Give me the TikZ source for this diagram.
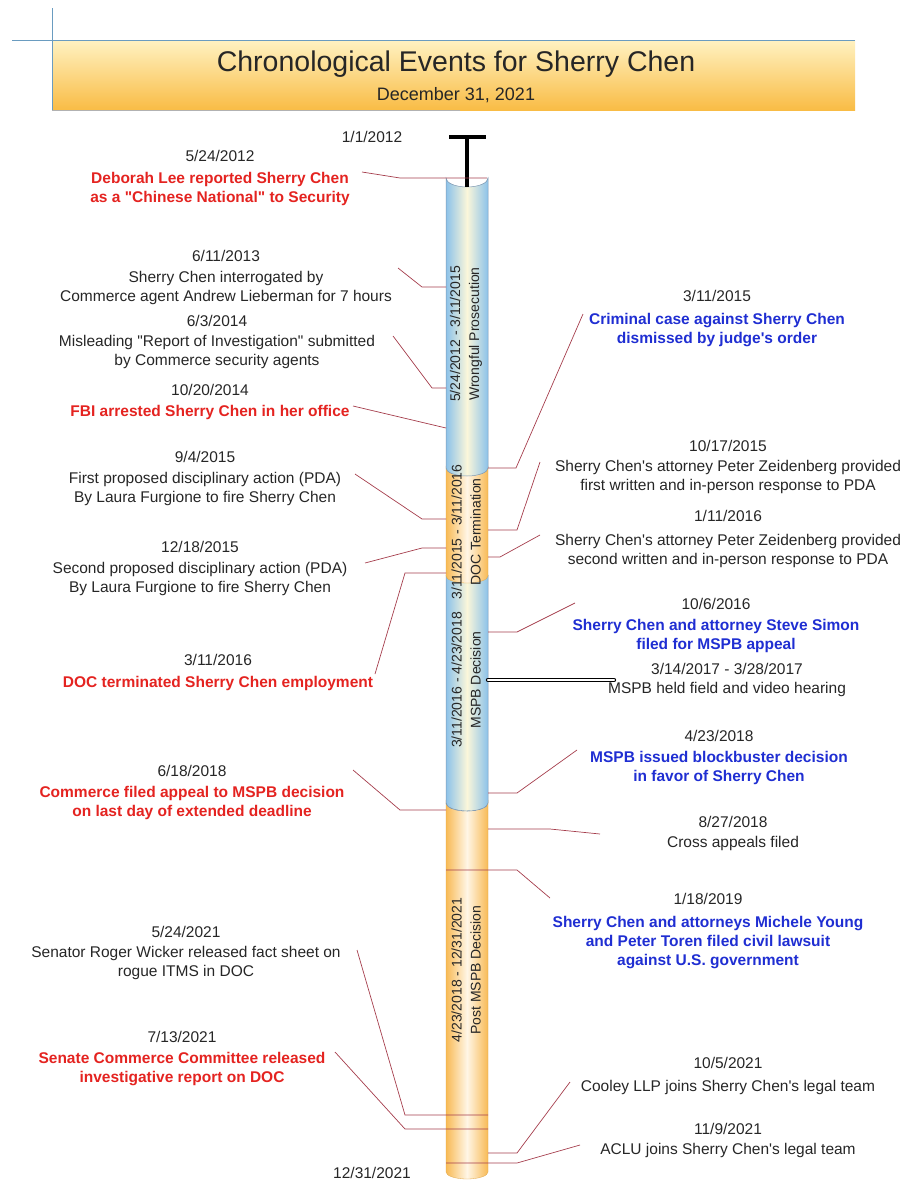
\documentclass[tikz,border=0pt]{standalone}
\usepackage{fontspec}
\setmainfont{Liberation Sans}[Ligatures=TeXOff]
\usepackage{tikz}
\usetikzlibrary{positioning}
\definecolor{evred}{HTML}{E42320}
\definecolor{evblue}{HTML}{1F2ED2}
\definecolor{evtext}{HTML}{262626}
\definecolor{linkred}{HTML}{A53D4C}
\definecolor{tubeblue}{HTML}{8CC2EA}
\definecolor{tubecream}{HTML}{FBF7DA}
\definecolor{tubeorange}{HTML}{F8BA55}
\definecolor{tubelight}{HTML}{FFF6E6}
\definecolor{tubeedge}{HTML}{7E98B2}
\definecolor{bannertop}{HTML}{FFF2C2}
\definecolor{bannerbot}{HTML}{F9BC45}
\definecolor{rulerblue}{HTML}{6A9CC0}
\newcommand{\hired}[1]{\textcolor{evred}{\bfseries #1}}
\newcommand{\hiblue}[1]{\textcolor{evblue}{\bfseries #1}}

\begin{document}
\begin{tikzpicture}[x=1pt,y=-1pt]
  % styles
  \tikzstyle{event} = [align=center,font=\fontsize{15.5}{19}\selectfont,text=evtext,inner sep=0pt,anchor=north];
  \tikzstyle{span} = [rotate=90,align=center,font=\fontsize{14}{19}\selectfont,text=evtext,inner sep=0pt];
  \tikzstyle{link} = [linkred,line width=0.7pt];
  \tikzstyle{bluetube} = [draw=tubeedge,line width=0.5pt,left color=tubeblue,right color=tubeblue,middle color=tubecream];
  \tikzstyle{orangetube} = [draw=tubeorange!90!black,line width=0.3pt,left color=tubeorange,right color=tubeorange,middle color=tubelight];

  \useasboundingbox (0,0) rectangle (906,1183);

  % banner
  \shade[top color=bannertop,bottom color=bannerbot] (52,40) rectangle (855,110);
  \draw[rulerblue,line width=0.6pt] (12,40) -- (855,40);
  \draw[rulerblue,line width=0.6pt] (52,8) -- (52,110);
  \draw[gray!60,line width=0.8pt] (52,110) -- (460,110);
  \node[font=\fontsize{28.5}{32}\selectfont,text=evtext] (title) at (456,64) {Chronological Events for Sherry Chen};
  \node[font=\fontsize{18}{20}\selectfont,text=evtext,below=3pt of title] (subtitle) {December 31, 2021};

  % timeline segments
  \path[orangetube] (446,800) -- (446,1172) arc[start angle=180,end angle=360,x radius=21pt,y radius=7pt] -- (488,800) -- cycle;
  \path[bluetube] (446,575) -- (446,803) arc[start angle=180,end angle=360,x radius=21pt,y radius=8pt] -- (488,575) -- cycle;
  \draw[tubeedge,dashed,line width=0.5pt] (446,803) arc[start angle=180,end angle=360,x radius=21pt,y radius=8pt];
  \path[orangetube] (446,466) -- (446,576) arc[start angle=180,end angle=360,x radius=21pt,y radius=7pt] -- (488,466) -- cycle;
  \path[bluetube] (446,178) arc[start angle=180,end angle=360,x radius=21pt,y radius=9pt] -- (488,468) arc[start angle=360,end angle=180,x radius=21pt,y radius=8pt] -- cycle;

  \node[span] (wrongful) at (466,334) {5/24/2012 - 3/11/2015\\Wrongful Prosecution};
  \node[span] (doc) at (466,532) {3/11/2015 - 3/11/2016\\DOC Termination};
  \node[span] (mspb) at (466,680) {3/11/2016 - 4/23/2018\\MSPB Decision};
  \node[span] (post) at (466,970) {4/23/2018 - 12/31/2021\\Post MSPB Decision};

  % start marker and hearing tube
  \draw[line width=3.5pt] (449,137) -- (486,137);
  \draw[line width=3.5pt] (467,137) -- (467,187);
  \coordinate (hearA) at (488,680);
  \coordinate (hearB) at (614,680);
  \draw[double=white,double distance=2.4pt,line width=1pt,line cap=round] (hearA) -- (hearB);

  % nodes
  \node[font=\fontsize{15.5}{19}\selectfont,text=evtext] (start) at (372,137) {1/1/2012};
  \node[font=\fontsize{15.5}{19}\selectfont,text=evtext] (finish) at (372,1173) {12/31/2021};

  \node[event] (l1) at (220,150) {5/24/2012\\[3pt]\hired{Deborah Lee reported Sherry Chen}\\\hired{as a "Chinese National" to Security}};
  \node[event] (l2) at (226,250) {6/11/2013\\[2pt]Sherry Chen interrogated by\\Commerce agent Andrew Lieberman for 7 hours};
  \node[event] (l3) at (217,315) {6/3/2014\\[1pt]Misleading "Report of Investigation" submitted\\by Commerce security agents};
  \node[event] (l4) at (210,384) {10/20/2014\\[2pt]\hired{FBI arrested Sherry Chen in her office}};
  \node[event] (l5) at (205,451) {9/4/2015\\[2pt]First proposed disciplinary action (PDA)\\By Laura Furgione to fire Sherry Chen};
  \node[event] (l6) at (200,541) {12/18/2015\\[2pt]Second proposed disciplinary action (PDA)\\By Laura Furgione to fire Sherry Chen};
  \node[event] (l7) at (218,654) {3/11/2016\\[3pt]\hired{DOC terminated Sherry Chen employment}};
  \node[event] (l8) at (192,765) {6/18/2018\\[2pt]\hired{Commerce filed appeal to MSPB decision}\\\hired{on last day of extended deadline}};
  \node[event] (l9) at (186,926) {5/24/2021\\[1pt]Senator Roger Wicker released fact sheet on\\rogue ITMS in DOC};
  \node[event] (l10) at (182,1031) {7/13/2021\\[2pt]\hired{Senate Commerce Committee released}\\\hired{investigative report on DOC}};

  \node[event] (r1) at (717,290) {3/11/2015\\[4pt]\hiblue{Criminal case against Sherry Chen}\\\hiblue{dismissed by judge's order}};
  \node[event] (r2) at (728,440) {10/17/2015\\[1pt]Sherry Chen's attorney Peter Zeidenberg provided\\first written and in-person response to PDA};
  \node[event] (r3) at (728,510) {1/11/2016\\[5pt]Sherry Chen's attorney Peter Zeidenberg provided\\second written and in-person response to PDA};
  \node[event] (r4) at (716,598) {10/6/2016\\[2pt]\hiblue{Sherry Chen and attorney Steve Simon}\\\hiblue{filed for MSPB appeal}};
  \node[event] (r5) at (727,663) {3/14/2017 - 3/28/2017\\MSPB held field and video hearing};
  \node[event] (r6) at (719,730) {4/23/2018\\[2pt]\hiblue{MSPB issued blockbuster decision}\\\hiblue{in favor of Sherry Chen}};
  \node[event] (r7) at (733,816) {8/27/2018\\[1pt]Cross appeals filed};
  \node[event] (r8) at (708,893) {1/18/2019\\[4pt]\hiblue{Sherry Chen and attorneys Michele Young}\\\hiblue{and Peter Toren filed civil lawsuit}\\\hiblue{against U.S. government}};
  \node[event] (r9) at (728,1057) {10/5/2021\\[4pt]Cooley LLP joins Sherry Chen's legal team};
  \node[event] (r10) at (728,1123) {11/9/2021\\[1pt]ACLU joins Sherry Chen's legal team};

  % connector points
  \coordinate (l1s) at (362,172); \coordinate (l1k) at (400,178); \coordinate (l1b) at (487,178);
  \coordinate (l2s) at (398,268); \coordinate (l2k) at (422,287); \coordinate (l2b) at (446,287);
  \coordinate (l3s) at (393,336); \coordinate (l3k) at (432,388); \coordinate (l3b) at (446,388);
  \coordinate (l4s) at (353,406); \coordinate (l4b) at (446,428);
  \coordinate (l5s) at (355,474); \coordinate (l5k) at (422,519); \coordinate (l5b) at (446,519);
  \coordinate (l6s) at (365,563); \coordinate (l6k) at (422,548); \coordinate (l6b) at (446,548);
  \coordinate (l7s) at (375,674); \coordinate (l7k) at (405,573); \coordinate (l7b) at (446,573);
  \coordinate (l8s) at (353,770); \coordinate (l8k) at (400,810); \coordinate (l8b) at (446,810);
  \coordinate (l9s) at (357,950); \coordinate (l9k) at (405,1115); \coordinate (l9b) at (488,1115);
  \coordinate (l10s) at (335,1052); \coordinate (l10k) at (405,1129); \coordinate (l10b) at (488,1129);
  \coordinate (r1s) at (583,314); \coordinate (r1k) at (516,468); \coordinate (r1b) at (488,468);
  \coordinate (r2s) at (540,462); \coordinate (r2k) at (517,530); \coordinate (r2b) at (488,530);
  \coordinate (r3s) at (540,535); \coordinate (r3k) at (500,557); \coordinate (r3b) at (488,557);
  \coordinate (r4s) at (575,603); \coordinate (r4k) at (517,632); \coordinate (r4b) at (488,632);
  \coordinate (r6s) at (577,750); \coordinate (r6k) at (517,793); \coordinate (r6b) at (488,793);
  \coordinate (r7s) at (600,834); \coordinate (r7k) at (550,829); \coordinate (r7b) at (488,829);
  \coordinate (r8s) at (550,898); \coordinate (r8k) at (517,870); \coordinate (r8b) at (446,870);
  \coordinate (r9s) at (570,1082); \coordinate (r9k) at (517,1153); \coordinate (r9b) at (488,1153);
  \coordinate (r10s) at (580,1145); \coordinate (r10k) at (517,1163); \coordinate (r10b) at (446,1163);

  % edges
  \draw[link] (l1s) -- (l1k) -- (l1b);
  \draw[link] (l2s) -- (l2k) -- (l2b);
  \draw[link] (l3s) -- (l3k) -- (l3b);
  \draw[link] (l4s) -- (l4b);
  \draw[link] (l5s) -- (l5k) -- (l5b);
  \draw[link] (l6s) -- (l6k) -- (l6b);
  \draw[link] (l7s) -- (l7k) -- (l7b);
  \draw[link] (l8s) -- (l8k) -- (l8b);
  \draw[link] (l9s) -- (l9k) -- (l9b);
  \draw[link] (l10s) -- (l10k) -- (l10b);
  \draw[link] (r1s) -- (r1k) -- (r1b);
  \draw[link] (r2s) -- (r2k) -- (r2b);
  \draw[link] (r3s) -- (r3k) -- (r3b);
  \draw[link] (r4s) -- (r4k) -- (r4b);
  \draw[link] (r6s) -- (r6k) -- (r6b);
  \draw[link] (r7s) -- (r7k) -- (r7b);
  \draw[link] (r8s) -- (r8k) -- (r8b);
  \draw[link] (r9s) -- (r9k) -- (r9b);
  \draw[link] (r10s) -- (r10k) -- (r10b);
\end{tikzpicture}
\end{document}
